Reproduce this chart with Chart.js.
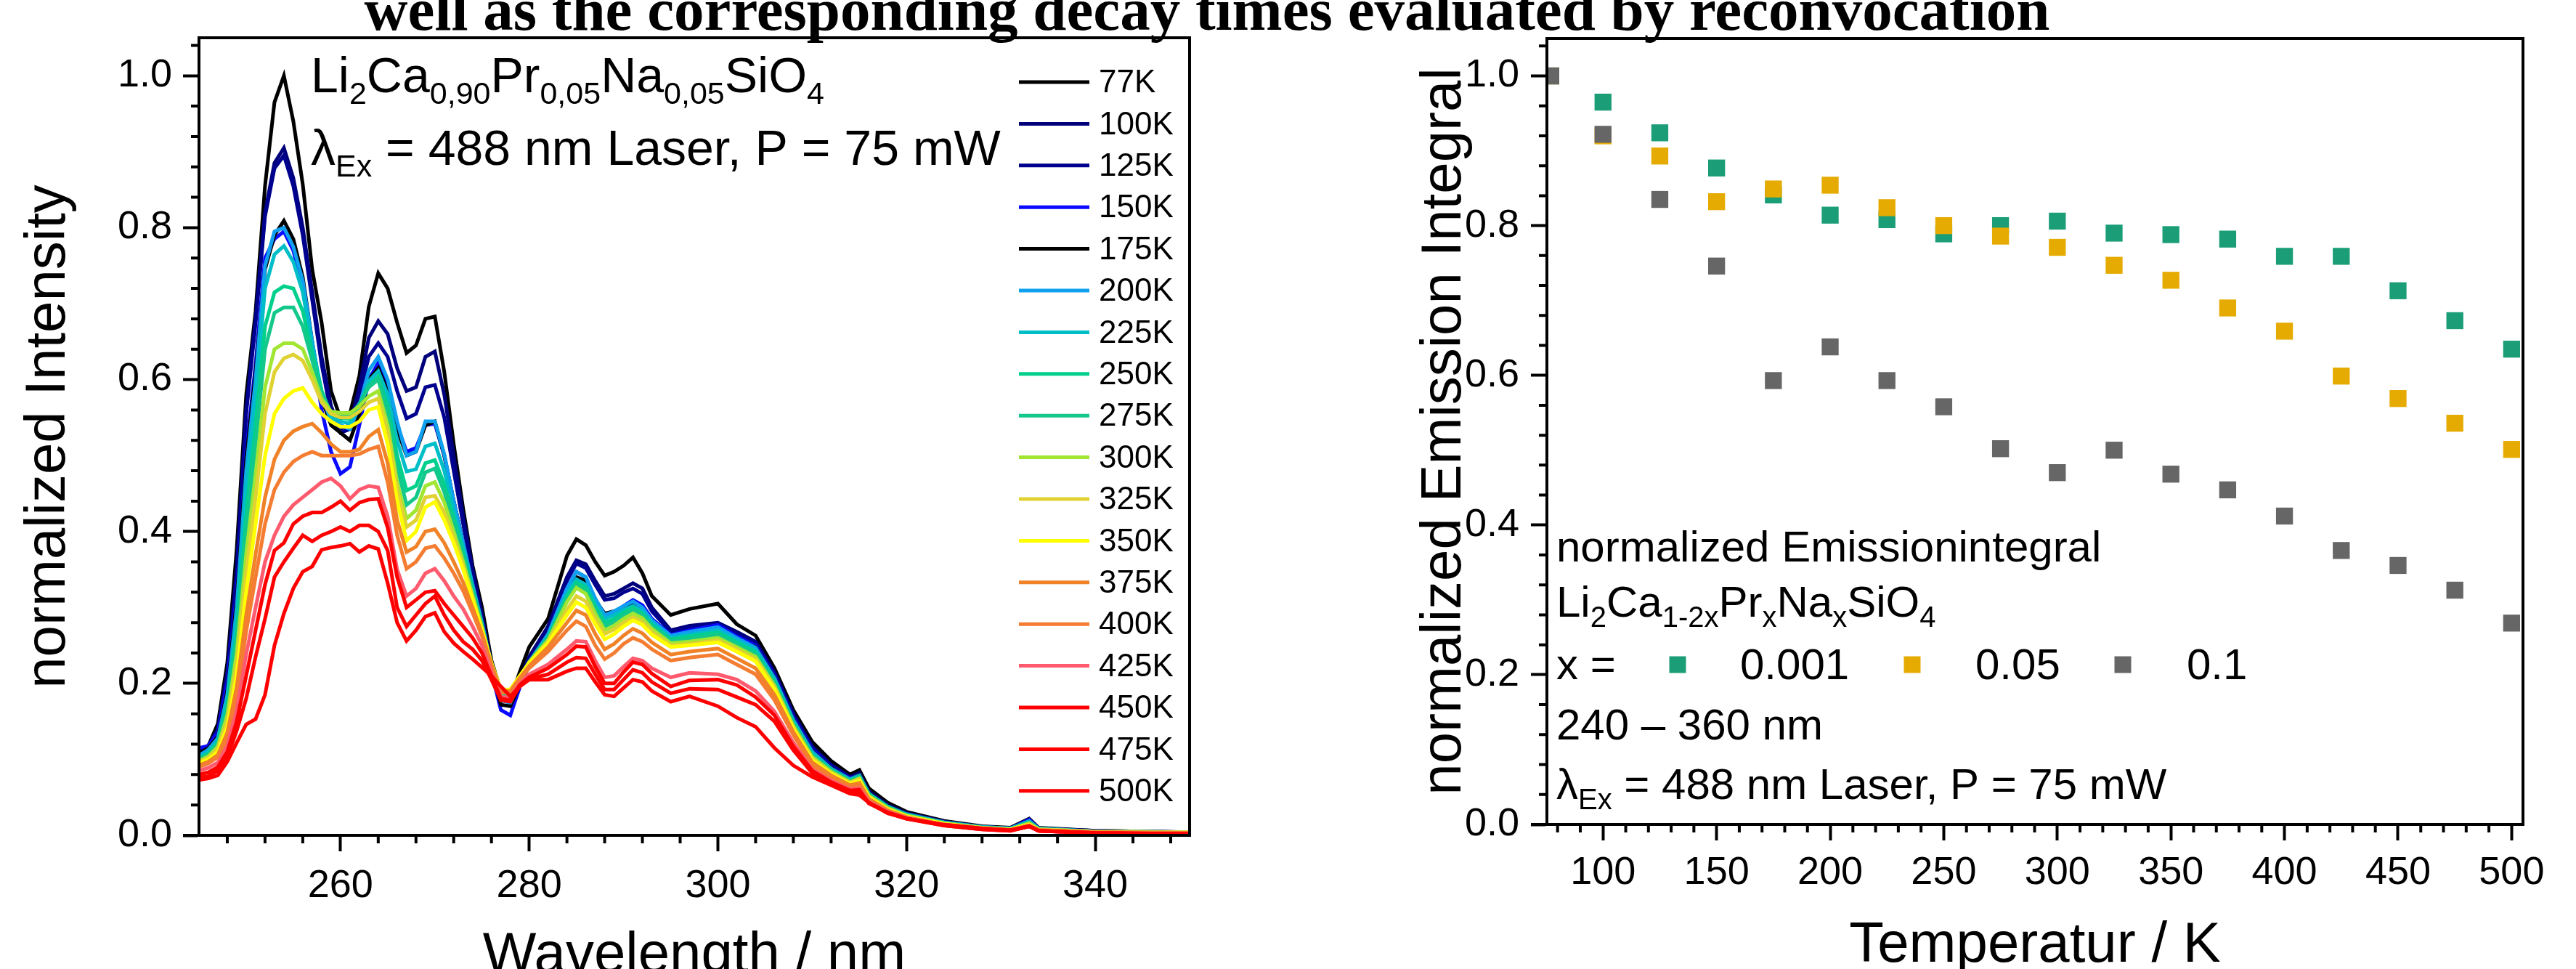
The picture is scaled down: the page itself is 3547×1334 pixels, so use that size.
<!DOCTYPE html>
<html>
<head>
<meta charset="utf-8">
<script src="https://cdn.jsdelivr.net/npm/chart.js@4.4.1/dist/chart.umd.min.js"></script>
<style>
html,body{margin:0;padding:0;background:#fff;overflow:hidden;width:3547px;height:1334px;}
#left{position:absolute;left:0;top:0;}
#right{position:absolute;left:1720px;top:0;}
#title{position:absolute;left:0;width:3324px;top:-28px;text-align:center;font:bold 83px 'Liberation Serif',serif;line-height:83px;white-space:nowrap;z-index:2;color:#000;}
</style>
</head>
<body>
<div id="title">well as the corresponding decay times evaluated by reconvocation</div>
<canvas id="left" width="1720" height="1400"></canvas>
<canvas id="right" width="1827" height="1400"></canvas>
<script>
// spectra (normalized intensity)
const wavelength = [245,246,247,248,249,250,251,252,253,254,255,256,257,258,259,
  260,261,262,263,264,265,266,267,268,269,270,271,272,273,274,275,276,277,278,279,280,
  282,284,285,286,287,288,289,290,291,292,293,
  295,297,300,302,304,306,308,310,312,314,315,316,318,320,
  324,328,331,333,334,340,350];
const temps = ['77K','100K','125K','150K','175K','200K','225K','250K','275K','300K','325K','350K','375K','400K','425K','450K','475K','500K'];

const i77K = [0.106,0.118,0.147,0.227,0.377,0.579,0.690,0.855,0.965,1.000,0.940,0.857,0.745,0.675,0.585,
  0.549,0.555,0.605,0.696,0.740,0.720,0.675,0.635,0.645,0.680,0.683,0.610,0.515,0.430,0.355,0.300,0.230,0.190,0.180,0.215,0.248,
  0.285,0.368,0.390,0.382,0.360,0.342,0.347,0.355,0.366,0.345,0.315,
  0.290,0.298,0.305,0.278,0.263,0.220,0.165,0.123,0.098,0.080,0.086,0.062,0.043,0.031,
  0.019,0.012,0.010,0.022,0.010,0.006,0.004];
const i100K = [0.110,0.118,0.140,0.215,0.350,0.560,0.680,0.820,0.885,0.905,0.865,0.800,0.715,0.630,0.565,
  0.535,0.540,0.590,0.655,0.677,0.660,0.615,0.585,0.590,0.630,0.637,0.580,0.500,0.420,0.350,0.290,0.225,0.180,0.175,0.205,0.235,
  0.275,0.340,0.362,0.357,0.335,0.315,0.318,0.325,0.332,0.325,0.300,
  0.270,0.276,0.280,0.268,0.255,0.215,0.160,0.117,0.093,0.077,0.082,0.058,0.040,0.029,
  0.018,0.011,0.009,0.020,0.009,0.006,0.004];
const i125K = [0.112,0.118,0.138,0.210,0.345,0.555,0.675,0.815,0.878,0.895,0.855,0.790,0.705,0.620,0.555,
  0.530,0.535,0.580,0.630,0.648,0.630,0.585,0.549,0.555,0.590,0.593,0.550,0.480,0.410,0.345,0.287,0.222,0.178,0.175,0.203,0.232,
  0.272,0.335,0.358,0.352,0.330,0.310,0.312,0.320,0.325,0.318,0.295,
  0.268,0.274,0.278,0.265,0.252,0.212,0.158,0.115,0.092,0.076,0.081,0.057,0.040,0.029,
  0.018,0.011,0.009,0.020,0.009,0.006,0.004];
const i150K = [0.115,0.118,0.135,0.200,0.320,0.505,0.620,0.760,0.785,0.795,0.770,0.720,0.640,0.560,0.505,
  0.476,0.485,0.540,0.600,0.622,0.590,0.540,0.505,0.510,0.540,0.542,0.500,0.440,0.385,0.330,0.280,0.215,0.165,0.158,0.195,0.225,
  0.265,0.325,0.347,0.340,0.310,0.290,0.292,0.302,0.310,0.303,0.285,
  0.264,0.270,0.277,0.262,0.250,0.210,0.155,0.113,0.090,0.075,0.080,0.056,0.039,0.028,
  0.017,0.011,0.009,0.021,0.009,0.005,0.004];
const i175K = [0.108,0.115,0.130,0.190,0.310,0.495,0.610,0.745,0.790,0.809,0.785,0.735,0.650,0.575,0.540,
  0.530,0.520,0.555,0.600,0.615,0.585,0.535,0.500,0.505,0.540,0.545,0.500,0.440,0.385,0.330,0.280,0.218,0.172,0.170,0.198,0.228,
  0.265,0.318,0.340,0.335,0.310,0.292,0.295,0.300,0.305,0.298,0.282,
  0.262,0.266,0.272,0.258,0.248,0.208,0.153,0.111,0.089,0.074,0.080,0.056,0.039,0.028,
  0.017,0.011,0.009,0.019,0.009,0.005,0.004];
const i200K = [0.105,0.113,0.128,0.185,0.300,0.480,0.600,0.750,0.795,0.800,0.775,0.730,0.650,0.580,0.545,
  0.540,0.535,0.565,0.612,0.630,0.600,0.545,0.500,0.505,0.545,0.545,0.502,0.440,0.385,0.330,0.280,0.220,0.178,0.175,0.200,0.228,
  0.265,0.325,0.347,0.340,0.312,0.290,0.295,0.302,0.308,0.300,0.283,
  0.263,0.268,0.274,0.260,0.247,0.207,0.152,0.110,0.088,0.074,0.079,0.055,0.038,0.028,
  0.017,0.011,0.009,0.019,0.009,0.005,0.004];
const i225K = [0.103,0.110,0.125,0.178,0.285,0.460,0.580,0.720,0.765,0.776,0.755,0.715,0.645,0.585,0.550,
  0.545,0.542,0.565,0.598,0.611,0.580,0.520,0.479,0.482,0.512,0.516,0.480,0.428,0.378,0.327,0.278,0.222,0.182,0.180,0.203,0.228,
  0.262,0.318,0.337,0.330,0.305,0.285,0.290,0.297,0.302,0.295,0.280,
  0.260,0.264,0.270,0.257,0.244,0.205,0.150,0.108,0.087,0.073,0.078,0.055,0.038,0.027,
  0.017,0.011,0.009,0.018,0.009,0.005,0.004];
const i250K = [0.101,0.108,0.122,0.170,0.265,0.420,0.540,0.670,0.715,0.723,0.720,0.690,0.635,0.585,0.555,
  0.550,0.548,0.568,0.592,0.604,0.565,0.500,0.454,0.460,0.490,0.494,0.462,0.418,0.372,0.323,0.277,0.225,0.185,0.185,0.205,0.228,
  0.260,0.314,0.333,0.326,0.300,0.280,0.285,0.293,0.300,0.292,0.277,
  0.258,0.262,0.267,0.254,0.241,0.202,0.148,0.106,0.086,0.072,0.077,0.054,0.037,0.027,
  0.016,0.010,0.008,0.017,0.008,0.005,0.004];
const i275K = [0.100,0.106,0.120,0.165,0.255,0.400,0.515,0.640,0.688,0.695,0.695,0.670,0.625,0.580,0.556,
  0.553,0.552,0.568,0.590,0.600,0.555,0.485,0.435,0.445,0.478,0.483,0.452,0.410,0.367,0.320,0.275,0.225,0.186,0.186,0.206,0.228,
  0.258,0.310,0.329,0.322,0.296,0.275,0.281,0.290,0.297,0.290,0.275,
  0.256,0.259,0.264,0.251,0.238,0.200,0.146,0.105,0.085,0.071,0.076,0.053,0.036,0.026,
  0.016,0.010,0.008,0.016,0.008,0.005,0.004];
const i300K = [0.098,0.104,0.117,0.158,0.240,0.370,0.475,0.590,0.640,0.648,0.648,0.640,0.610,0.575,0.558,
  0.556,0.556,0.565,0.578,0.585,0.540,0.465,0.417,0.428,0.460,0.465,0.438,0.400,0.360,0.316,0.273,0.226,0.190,0.190,0.208,0.228,
  0.257,0.307,0.326,0.318,0.292,0.270,0.276,0.285,0.292,0.286,0.272,
  0.253,0.255,0.260,0.248,0.235,0.197,0.144,0.103,0.084,0.070,0.075,0.052,0.036,0.026,
  0.016,0.010,0.008,0.016,0.008,0.005,0.004];
const i325K = [0.097,0.102,0.114,0.150,0.225,0.345,0.445,0.555,0.610,0.628,0.633,0.625,0.600,0.570,0.555,
  0.550,0.550,0.558,0.570,0.575,0.530,0.455,0.406,0.415,0.445,0.447,0.425,0.392,0.355,0.313,0.272,0.226,0.190,0.190,0.208,0.227,
  0.255,0.297,0.315,0.308,0.285,0.265,0.271,0.280,0.287,0.281,0.268,
  0.250,0.252,0.257,0.245,0.232,0.195,0.142,0.101,0.082,0.069,0.074,0.051,0.035,0.025,
  0.015,0.010,0.008,0.015,0.008,0.005,0.004];
const i350K = [0.095,0.100,0.110,0.142,0.210,0.320,0.410,0.500,0.555,0.575,0.585,0.589,0.570,0.555,0.545,
  0.538,0.538,0.545,0.560,0.564,0.515,0.440,0.388,0.400,0.432,0.439,0.415,0.385,0.350,0.310,0.270,0.227,0.192,0.192,0.210,0.227,
  0.253,0.290,0.307,0.300,0.278,0.258,0.265,0.275,0.283,0.277,0.264,
  0.248,0.250,0.254,0.242,0.229,0.192,0.140,0.099,0.081,0.068,0.072,0.050,0.034,0.025,
  0.015,0.009,0.008,0.014,0.007,0.004,0.003];
const i375K = [0.092,0.097,0.106,0.135,0.195,0.290,0.370,0.445,0.495,0.520,0.532,0.538,0.542,0.530,0.515,
  0.505,0.505,0.508,0.525,0.534,0.490,0.415,0.373,0.380,0.400,0.403,0.385,0.360,0.333,0.300,0.265,0.225,0.190,0.190,0.207,0.223,
  0.248,0.280,0.296,0.290,0.265,0.245,0.252,0.263,0.272,0.266,0.254,
  0.238,0.242,0.246,0.233,0.220,0.185,0.136,0.096,0.079,0.066,0.069,0.048,0.033,0.024,
  0.014,0.009,0.007,0.013,0.007,0.004,0.003];
const i400K = [0.090,0.095,0.103,0.128,0.182,0.268,0.340,0.410,0.455,0.478,0.492,0.500,0.505,0.500,0.500,
  0.500,0.500,0.502,0.508,0.512,0.465,0.395,0.351,0.360,0.378,0.381,0.365,0.345,0.322,0.293,0.262,0.222,0.188,0.188,0.205,0.220,
  0.242,0.270,0.282,0.275,0.250,0.232,0.240,0.252,0.260,0.255,0.245,
  0.230,0.234,0.238,0.225,0.212,0.178,0.132,0.092,0.076,0.064,0.066,0.046,0.032,0.023,
  0.014,0.009,0.007,0.013,0.007,0.004,0.003];
const i425K = [0.085,0.089,0.096,0.118,0.165,0.238,0.300,0.360,0.395,0.420,0.435,0.445,0.455,0.465,0.470,
  0.460,0.443,0.455,0.460,0.458,0.420,0.350,0.315,0.325,0.345,0.351,0.335,0.315,0.298,0.275,0.250,0.215,0.182,0.182,0.200,0.212,
  0.225,0.245,0.256,0.255,0.230,0.208,0.210,0.222,0.233,0.230,0.220,
  0.208,0.214,0.212,0.205,0.190,0.163,0.122,0.087,0.072,0.061,0.062,0.044,0.031,0.023,
  0.014,0.009,0.007,0.012,0.006,0.003,0.002];
const i450K = [0.080,0.083,0.090,0.110,0.150,0.210,0.270,0.330,0.375,0.385,0.410,0.420,0.425,0.425,0.432,
  0.440,0.428,0.438,0.442,0.443,0.405,0.340,0.300,0.310,0.320,0.322,0.305,0.290,0.275,0.260,0.240,0.210,0.180,0.178,0.198,0.208,
  0.220,0.238,0.249,0.248,0.222,0.200,0.200,0.215,0.228,0.225,0.213,
  0.196,0.204,0.205,0.198,0.182,0.158,0.117,0.085,0.070,0.059,0.060,0.042,0.030,0.022,
  0.013,0.008,0.006,0.012,0.006,0.003,0.002];
const i475K = [0.076,0.078,0.085,0.103,0.138,0.180,0.235,0.285,0.340,0.360,0.378,0.395,0.387,0.395,0.400,
  0.406,0.400,0.408,0.408,0.400,0.375,0.300,0.275,0.290,0.305,0.315,0.290,0.270,0.255,0.245,0.230,0.205,0.178,0.176,0.196,0.206,
  0.212,0.228,0.234,0.233,0.212,0.192,0.192,0.205,0.218,0.214,0.202,
  0.187,0.193,0.192,0.182,0.172,0.150,0.112,0.082,0.068,0.057,0.057,0.043,0.030,0.022,
  0.013,0.008,0.006,0.012,0.006,0.003,0.002];
const i500K = [0.073,0.075,0.079,0.097,0.122,0.146,0.153,0.185,0.250,0.292,0.325,0.347,0.354,0.376,0.379,
  0.381,0.384,0.373,0.381,0.377,0.332,0.280,0.256,0.270,0.288,0.293,0.268,0.253,0.242,0.232,0.221,0.210,0.196,0.183,0.196,0.205,
  0.205,0.216,0.220,0.220,0.202,0.185,0.183,0.194,0.205,0.202,0.190,
  0.176,0.183,0.170,0.155,0.143,0.115,0.092,0.077,0.066,0.055,0.053,0.043,0.029,0.022,
  0.014,0.009,0.007,0.012,0.006,0.003,0.0015];
const spectra = [i77K,i100K,i125K,i150K,i175K,i200K,i225K,i250K,i275K,i300K,i325K,i350K,i375K,i400K,i425K,i450K,i475K,i500K];

// normalized emission integral vs temperature
const tempK = [77,100,125,150,175,200,225,250,275,300,325,350,375,400,425,450,475,500];
const integX0001 = [1.000,0.965,0.924,0.877,0.841,0.814,0.808,0.789,0.800,0.806,0.790,0.788,0.782,0.759,0.759,0.713,0.673,0.635];
const integX005  = [1.000,0.920,0.893,0.832,0.849,0.854,0.824,0.800,0.786,0.771,0.747,0.727,0.690,0.659,0.599,0.569,0.536,0.501];
const integX01   = [1.000,0.922,0.835,0.746,0.593,0.638,0.593,0.558,0.502,0.470,0.500,0.468,0.447,0.412,0.366,0.346,0.313,0.269];
const xLabels = ['0.001','0.05','0.1'];

// tick values
const waveMajor = [260,280,300,320,340];
const intMajor = [0,0.2,0.4,0.6,0.8,1.0];
const tempMajor = [100,150,200,250,300,350,400,450,500];

// styles
const lineColors = ['#000000','#00007a','#00008e','#0a0aff','#000000','#10a0f0','#00bec8','#00d08c','#14c88c',
  '#a0e632','#e0d232','#ffff00','#f08228','#f47d32','#ff5a6e','#ff0000','#ff0000','#ff0000'];
const dotColors = ['#1b9e77','#e6ab02','#666666'];
const FONT = "'Liberation Sans', Arial, sans-serif";

function minorTicks(from, to, step, skip) {
  let out = [];
  for (let v = from; v <= to + 1e-9; v += step) {
    let r = Math.round(v * 1000) / 1000;
    if (Math.abs(r / skip - Math.round(r / skip)) > 1e-6) out.push(r);
  }
  return out;
}

function richText(ctx, x, y, parts, size, subSize, subDy) {
  for (let [txt, sub] of parts) {
    ctx.font = (sub ? subSize : size) + 'px ' + FONT;
    ctx.fillText(txt, x, y + (sub ? subDy : 0));
    x += ctx.measureText(txt).width;
  }
  return x;
}

const axesDeco = {
  id: 'axesDeco',
  afterDatasetsDraw(chart, args, o) {
    const {ctx, chartArea: a, scales: {x, y}} = chart;
    ctx.save();
    ctx.strokeStyle = '#000';
    ctx.lineWidth = 4;
    ctx.strokeRect(a.left, a.top, a.right - a.left, a.bottom - a.top);
    ctx.beginPath();
    o.xMinor.forEach(v => { let p = x.getPixelForValue(v); ctx.moveTo(p, a.bottom); ctx.lineTo(p, a.bottom + 11); });
    o.yMinor.forEach(v => { let p = y.getPixelForValue(v); ctx.moveTo(a.left, p); ctx.lineTo(a.left - 11, p); });
    ctx.moveTo(a.left - 22, a.bottom);
    ctx.lineTo(a.left, a.bottom);
    ctx.stroke();
    ctx.restore();
  }
};

const spectraNotes = {
  id: 'spectraNotes',
  afterDraw(chart, args, o) {
    const ctx = chart.ctx;
    ctx.save();
    ctx.fillStyle = '#000';
    ctx.textBaseline = 'alphabetic';
    richText(ctx, 428, 127, [['Li',0],['2',1],['Ca',0],['0,90',1],['Pr',0],['0,05',1],['Na',0],['0,05',1],['SiO',0],['4',1]], 68, 43, 16);
    richText(ctx, 428, 227, [['\u03bb',0],['Ex',1],[' = 488 nm Laser, P = 75 mW',0]], 68, 43, 16);
    // legend
    ctx.font = '44px ' + FONT;
    ctx.textBaseline = 'middle';
    chart.data.datasets.forEach((ds, i) => {
      let yy = 113 + i * 57.4;
      ctx.strokeStyle = ds.borderColor;
      ctx.lineWidth = 5;
      ctx.beginPath();
      ctx.moveTo(1403, yy);
      ctx.lineTo(1500, yy);
      ctx.stroke();
      ctx.fillText(ds.label, 1513, yy + 2);
    });
    ctx.restore();
  }
};

const integralNotes = {
  id: 'integralNotes',
  afterDraw(chart) {
    const ctx = chart.ctx;
    ctx.save();
    ctx.fillStyle = '#000';
    ctx.textBaseline = 'alphabetic';
    const x0 = 423;
    richText(ctx, x0, 773, [['normalized Emissionintegral',0]], 60, 40, 14);
    richText(ctx, x0, 849, [['Li',0],['2',1],['Ca',0],['1-2x',1],['Pr',0],['x',1],['Na',0],['x',1],['SiO',0],['4',1]], 60, 40, 14);
    richText(ctx, x0, 935, [['x =',0]], 60, 40, 14);
    const sq = [590, 913, 1203], lx = [676, 1000, 1291];
    chart.data.datasets.forEach((ds, i) => {
      ctx.fillStyle = ds.backgroundColor;
      ctx.fillRect(sq[i] - 11.5, 915 - 11.5, 23, 23);
      ctx.fillStyle = '#000';
      richText(ctx, lx[i], 935, [[ds.label,0]], 60, 40, 14);
    });
    richText(ctx, x0, 1018, [['240 \u2013 360 nm',0]], 60, 40, 14);
    richText(ctx, x0, 1100, [['\u03bb',0],['Ex',1],[' = 488 nm Laser, P = 75 mW',0]], 60, 40, 14);
    ctx.restore();
  }
};

function tickFont() { return {family: FONT, size: 54}; }
function titleFont() { return {family: FONT, size: 78}; }

new Chart(document.getElementById('left'), {
  type: 'line',
  data: {
    datasets: temps.map((t, i) => ({
      label: t,
      data: wavelength.map((w, j) => ({x: w, y: spectra[i][j]})),
      borderColor: lineColors[i],
      borderWidth: 5,
      pointRadius: 0,
      tension: 0,
      fill: false,
      clip: 0,
      order: temps.length - 1 - i
    }))
  },
  options: {
    responsive: false,
    animation: false,
    layout: {padding: {left: 0, top: 52, right: 82, bottom: 0}},
    plugins: {
      legend: {display: false},
      tooltip: {enabled: false},
      axesDeco: {xMinor: minorTicks(248, 348, 4, 20), yMinor: minorTicks(0.04, 1.04, 0.04, 0.2)}
    },
    scales: {
      x: {
        type: 'linear', min: 245, max: 350,
        afterBuildTicks: s => { s.ticks = waveMajor.map(v => ({value: v})); },
        afterFit: s => { s.height = 250; },
        ticks: {font: tickFont(), color: '#000', padding: 16, maxRotation: 0, autoSkip: false},
        grid: {drawOnChartArea: false, tickLength: 22, tickWidth: 4, tickColor: '#000'},
        border: {width: 4, color: '#000'},
        title: {display: true, text: 'Wavelength / nm', font: titleFont(), color: '#000', padding: {top: 0, bottom: 37}}
      },
      y: {
        type: 'linear', min: 0, max: 1.05,
        afterBuildTicks: s => { s.ticks = intMajor.map(v => ({value: v})); },
        afterFit: s => { s.width = 274; },
        ticks: {font: tickFont(), color: '#000', padding: 15, callback: v => v.toFixed(1)},
        grid: {drawOnChartArea: false, tickLength: 22, tickWidth: 4, tickColor: '#000'},
        border: {width: 4, color: '#000'},
        title: {display: true, text: 'normalized Intensity', font: titleFont(), color: '#000', padding: {top: 21, bottom: 0}}
      }
    }
  },
  plugins: [axesDeco, spectraNotes]
});

const integSeries = [integX0001, integX005, integX01];
new Chart(document.getElementById('right'), {
  type: 'scatter',
  data: {
    datasets: integSeries.map((arr, i) => ({
      label: xLabels[i],
      data: tempK.map((t, j) => ({x: t, y: arr[j]})),
      backgroundColor: dotColors[i],
      borderWidth: 0,
      pointStyle: 'rect',
      pointRadius: 16.5,
      clip: 0,
      order: integSeries.length - 1 - i
    }))
  },
  options: {
    responsive: false,
    animation: false,
    layout: {padding: {left: 200, top: 53, right: 73, bottom: 0}},
    plugins: {
      legend: {display: false},
      tooltip: {enabled: false},
      axesDeco: {xMinor: minorTicks(80, 500, 10, 50), yMinor: minorTicks(0.04, 1.04, 0.04, 0.2)}
    },
    scales: {
      x: {
        type: 'linear', min: 75.3, max: 505,
        afterBuildTicks: s => { s.ticks = tempMajor.map(v => ({value: v})); },
        afterFit: s => { s.height = 265; },
        ticks: {font: tickFont(), color: '#000', padding: 13, maxRotation: 0, autoSkip: false},
        grid: {drawOnChartArea: false, tickLength: 22, tickWidth: 4, tickColor: '#000'},
        border: {width: 4, color: '#000'},
        title: {display: true, text: 'Temperatur / K', font: titleFont(), color: '#000', padding: {top: 0, bottom: 51}}
      },
      y: {
        type: 'linear', min: 0, max: 1.05,
        afterBuildTicks: s => { s.ticks = intMajor.map(v => ({value: v})); },
        afterFit: s => { s.width = 210; },
        ticks: {font: tickFont(), color: '#000', padding: 16, callback: v => v.toFixed(1)},
        grid: {drawOnChartArea: false, tickLength: 22, tickWidth: 4, tickColor: '#000'},
        border: {width: 4, color: '#000'},
        title: {display: true, text: 'normalized Emission Integral', font: titleFont(), color: '#000', padding: {top: 23, bottom: 0}}
      }
    }
  },
  plugins: [axesDeco, integralNotes]
});
</script>
</body>
</html>
